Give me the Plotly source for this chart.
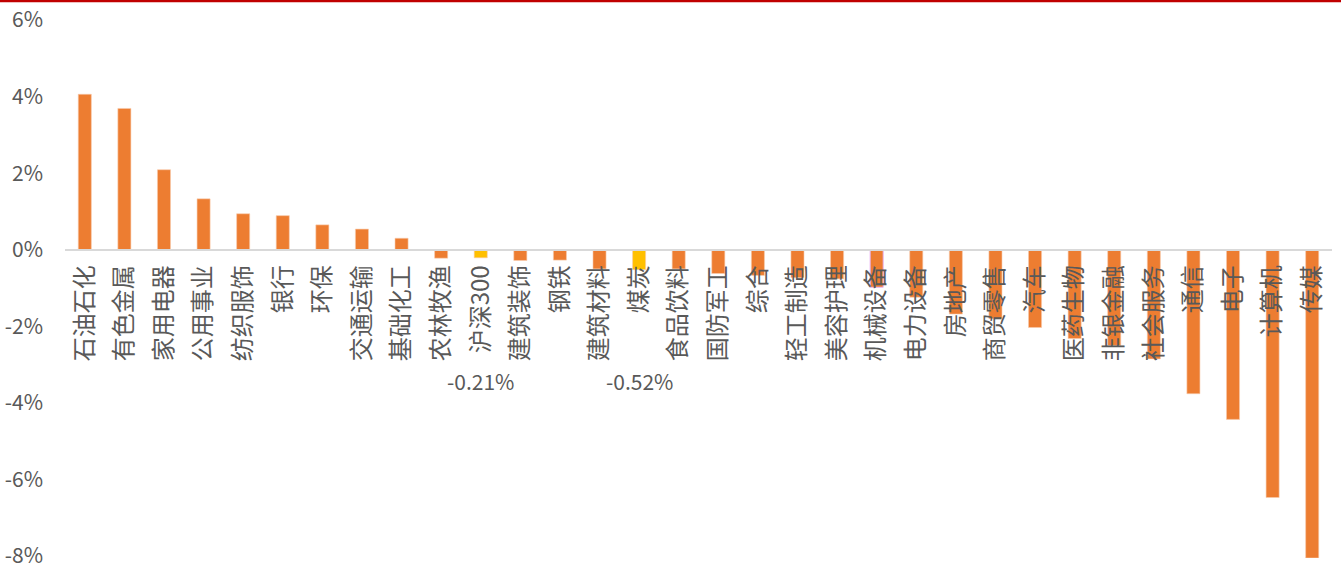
import plotly.graph_objects as go

# Sector weekly returns (%), with the CSI 300 benchmark included for reference
categories = [
    "石油石化", "有色金属", "家用电器", "公用事业", "纺织服饰", "银行", "环保", "交通运输",
    "基础化工", "农林牧渔", "沪深300", "建筑装饰", "钢铁", "建筑材料", "煤炭", "食品饮料",
    "国防军工", "综合", "轻工制造", "美容护理", "机械设备", "电力设备", "房地产", "商贸零售",
    "汽车", "医药生物", "非银金融", "社会服务", "通信", "电子", "计算机", "传媒",
]
returns = [
    4.06, 3.69, 2.09, 1.33, 0.94, 0.89, 0.65, 0.54,
    0.30, -0.22, -0.21, -0.28, -0.27, -0.50, -0.52, -0.50,
    -0.62, -0.67, -0.73, -0.76, -0.98, -1.24, -1.68, -1.80,
    -2.03, -2.32, -2.50, -2.85, -3.76, -4.43, -6.47, -8.05,
]
# Bars that carry a value label and a highlight colour
highlighted = ["沪深300", "煤炭"]

ytick_vals = [6, 4, 2, 0, -2, -4, -6, -8]
ytick_text = ["6%", "4%", "2%", "0%", "-2%", "-4%", "-6%", "-8%"]

ORANGE = "#ED7D31"
GOLD = "#FFC000"
TEXT = "#595959"
FONT = "Noto Sans CJK SC"

colors = [GOLD if c in highlighted else ORANGE for c in categories]
line_colors = ["#E8B5F5" if c == "机械设备" else "rgba(248,203,173,0.6)" for c in categories]

y_min, y_max = -8.05, 6.0

fig = go.Figure(
    go.Bar(
        x=categories,
        y=returns,
        marker=dict(color=colors, line=dict(color=line_colors, width=1)),
        width=0.33,
        hoverinfo="x+y",
    )
)

for c in highlighted:
    v = returns[categories.index(c)]
    fig.add_annotation(
        x=c, y=-3.42, xref="x", yref="y",
        text=f"{v:.2f}%", showarrow=False,
        font=dict(family=FONT, size=21, color=TEXT),
        xanchor="center", yanchor="middle",
    )

# Dark red rule along the top edge of the page
fig.add_shape(
    type="line", xref="paper", yref="paper",
    x0=-0.06, x1=1.02, y0=1.0355, y1=1.0355,
    line=dict(color="#C00000", width=2.5),
)

fig.update_layout(
    width=1341, height=567,
    margin=dict(l=65, r=9, t=20, b=9),
    plot_bgcolor="white", paper_bgcolor="white",
    showlegend=False,
    font=dict(family=FONT, size=21, color=TEXT),
    xaxis=dict(
        type="category",
        anchor="free",
        position=(0 - y_min) / (y_max - y_min),
        automargin=False,
        showline=True, linecolor="#D9D9D9", linewidth=2,
        showgrid=False, zeroline=False,
        ticks="", tickangle=-90,
        tickfont=dict(family=FONT, size=24, color=TEXT),
        ticklabelstandoff=5,
        ticklabeloverflow="allow",
        range=[-0.5, len(categories) - 0.5],
    ),
    yaxis=dict(
        range=[y_min, y_max],
        automargin=False,
        tickvals=ytick_vals, ticktext=ytick_text,
        showgrid=False, zeroline=False, showline=False,
        ticks="",
        tickfont=dict(family=FONT, size=21, color=TEXT),
        ticklabelstandoff=21,
        ticklabeloverflow="allow",
    ),
)

fig.write_html("out.html")
